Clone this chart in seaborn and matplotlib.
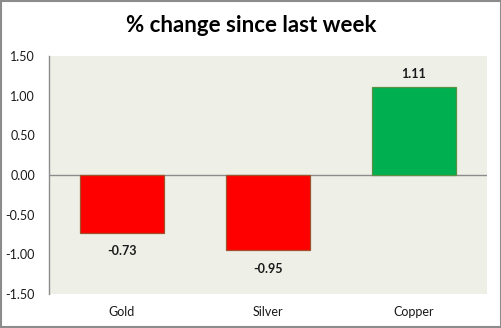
import matplotlib
matplotlib.use("Agg")
import matplotlib.pyplot as plt
import seaborn as sns
import pandas as pd
from matplotlib.patches import Rectangle

categories = ["Gold", "Silver", "Copper"]
values = [-0.73, -0.95, 1.11]
bar_colors = ["#FF0000", "#FF0000", "#00B050"]
edge_colors = ["#A0522D", "#A0522D", "#5B9146"]
yticks = [-1.5, -1.0, -0.5, 0.0, 0.5, 1.0, 1.5]

sns.set_theme(style="white")
plt.rcParams["font.family"] = ["Lato", "DejaVu Sans"]

df = pd.DataFrame({"metal": categories, "change": values})

fig = plt.figure(figsize=(5.02, 3.28), dpi=100)
ax = fig.add_axes([49/502, 1-294/328, (487-49)/502, (294-56)/328])
ax.set_facecolor("#EEF0E8")

sns.barplot(data=df, x="metal", y="change", hue="metal", palette=bar_colors,
            order=categories, hue_order=categories, width=0.57, legend=False,
            ax=ax, saturation=1)
for p, ec in zip(ax.patches, edge_colors):
    p.set_edgecolor(ec)
    p.set_linewidth(0.9)

ax.axhline(0, color="#8C8C8C", lw=1, zorder=0.5)
ax.set_ylim(-1.5, 1.5)
ax.set_xlim(-0.5, 2.5)
ax.set_yticks(yticks)
ax.set_yticklabels([f"{t:.2f}" for t in yticks], fontsize=9, color="#1a1a1a")
ax.tick_params(axis="y", length=0, pad=10)
ax.tick_params(axis="x", length=0, pad=9, labelsize=9, labelcolor="#1a1a1a")
ax.set_xlabel("")
ax.set_ylabel("")
for s in ["top", "right", "bottom"]:
    ax.spines[s].set_visible(False)
ax.spines["left"].set_color("#8C8C8C")
ax.spines["left"].set_linewidth(1)

for i, v in enumerate(values):
    off = 0.165 if v > 0 else -0.23
    ax.text(i, v + off, f"{v:.2f}", ha="center", va="center",
            fontsize=9, fontweight="bold", color="#1a1a1a")

fig.text(0.5, 1-25/328, "% change since last week", ha="center", va="center",
         fontsize=16, fontweight="bold", color="black")

fig.patches.append(Rectangle((0.001, 0.002), 0.997, 0.995, transform=fig.transFigure,
                             fill=False, edgecolor="#8C8C8C", lw=1.5))

fig.savefig("out.png", dpi=100)
